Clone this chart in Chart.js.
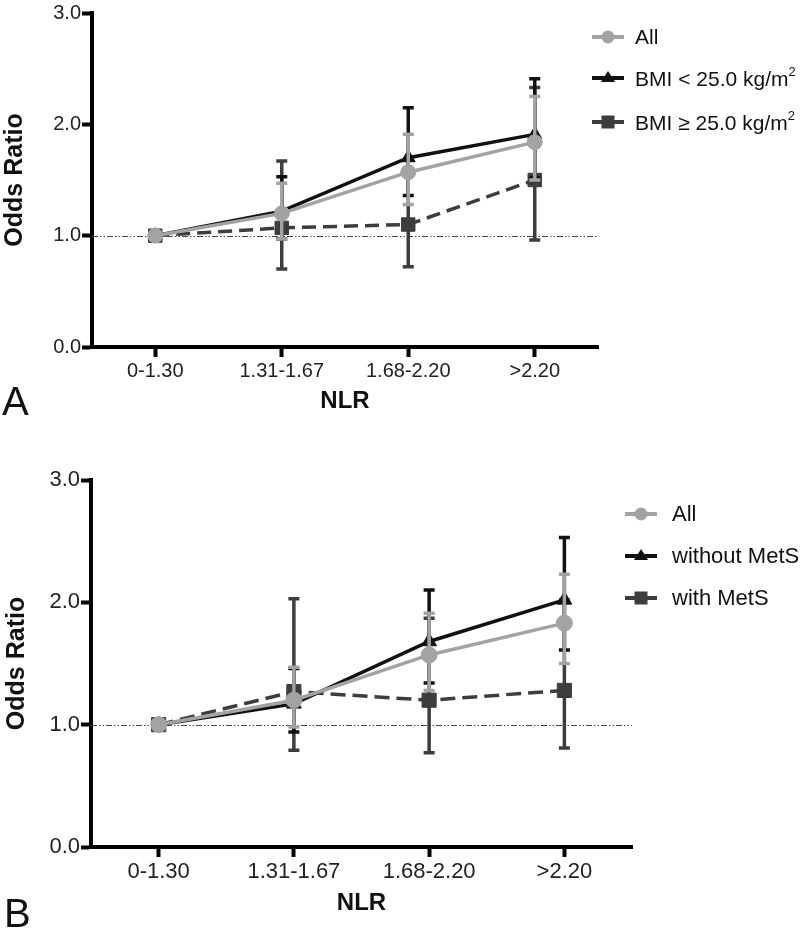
<!DOCTYPE html>
<html>
<head>
<meta charset="utf-8">
<script src="https://cdn.jsdelivr.net/npm/chart.js@4/dist/chart.umd.min.js"></script>
<style>
  html, body { margin:0; padding:0; background:#fff; }
  body { width:800px; height:936px; position:relative; overflow:hidden; font-family:"Liberation Sans", Arial, sans-serif; }
  .wrap { position:absolute; left:0; width:800px; }
  .panelLabel { position:absolute; font-size:40px; color:#111; line-height:1; }
  .legend { position:absolute; color:#111; }
  .legend .row { position:absolute; left:0; white-space:nowrap; display:flex; align-items:center; }
  .legend svg { display:block; }
  .legend sup { font-size:0.62em; position:relative; top:-0.15em; }
</style>
</head>
<body>
<div class="wrap" style="top:0;height:430px;"><canvas id="chartA" width="800" height="430"></canvas></div>
<div class="wrap" style="top:460px;height:476px;"><canvas id="chartB" width="800" height="476"></canvas></div>
<div class="panelLabel" style="left:2px;top:381px;">A</div>
<div class="panelLabel" style="left:4px;top:893px;">B</div>
<div class="legend" id="legA" style="left:592px;top:0px;font-size:21px;"></div>
<div class="legend" id="legB" style="left:625px;top:460px;font-size:22px;"></div>
<script>
// ---------- data ----------
const categories = ["0-1.30", "1.31-1.67", "1.68-2.20", ">2.20"];
const yTicks = [0, 1, 2, 3];

// Panel A
const allA    = [1.00, 1.20, 1.57, 1.84];
const allALo  = [1.00, 0.97, 1.28, 1.50];
const allAHi  = [1.00, 1.47, 1.91, 2.25];
const bmiLow   = [1.00, 1.22, 1.70, 1.91];
const bmiLowLo = [1.00, 0.97, 1.36, 1.52];
const bmiLowHi = [1.00, 1.53, 2.15, 2.41];
const bmiHigh   = [1.00, 1.07, 1.10, 1.50];
const bmiHighLo = [1.00, 0.70, 0.72, 0.96];
const bmiHighHi = [1.00, 1.67, 1.68, 2.33];

// Panel B
const allB    = [1.00, 1.20, 1.57, 1.83];
const allBLo  = [1.00, 0.98, 1.28, 1.50];
const allBHi  = [1.00, 1.47, 1.91, 2.23];
const noMetS   = [1.00, 1.17, 1.68, 2.02];
const noMetSLo = [1.00, 0.94, 1.34, 1.61];
const noMetSHi = [1.00, 1.46, 2.10, 2.53];
const metS   = [1.00, 1.27, 1.20, 1.28];
const metSLo = [1.00, 0.79, 0.77, 0.81];
const metSHi = [1.00, 2.03, 1.87, 2.02];

const refValue = 1.0;

// ---------- styles ----------
const GRAY = "#a3a3a3", BLACK = "#111111", DARK = "#3d3d3d";
const FONT = "'Liberation Sans', Arial, sans-serif";

const errorBars = {
  id: "errorBars",
  beforeDatasetDraw(chart, args) {
    const ds = chart.data.datasets[args.index];
    if (!ds.errLo) return;
    const ys = chart.scales.y, ctx = chart.ctx;
    ctx.save();
    ctx.setLineDash([]);
    ctx.strokeStyle = ds.borderColor;
    ctx.lineWidth = 3.5;
    ctx.lineCap = "butt";
    args.meta.data.forEach((pt, i) => {
      const lo = ds.errLo[i], hi = ds.errHi[i];
      if (lo === hi) return;
      const x = pt.x, yl = ys.getPixelForValue(lo), yh = ys.getPixelForValue(hi);
      ctx.beginPath();
      ctx.moveTo(x, yl); ctx.lineTo(x, yh);
      ctx.moveTo(x - 5.5, yl); ctx.lineTo(x + 5.5, yl);
      ctx.moveTo(x - 5.5, yh); ctx.lineTo(x + 5.5, yh);
      ctx.stroke();
    });
    ctx.restore();
  }
};

const refLine = {
  id: "refLine",
  beforeDatasetsDraw(chart) {
    const ys = chart.scales.y, ctx = chart.ctx, a = chart.chartArea;
    const y = Math.round(ys.getPixelForValue(refValue)) + 0.5;
    ctx.save();
    ctx.strokeStyle = "#444";
    ctx.lineWidth = 1;
    ctx.setLineDash([6, 2, 1.5, 2, 1.5, 2]);
    ctx.beginPath();
    ctx.moveTo(a.left, y); ctx.lineTo(a.right, y);
    ctx.stroke();
    ctx.restore();
  }
};

function makeChart(id, sets, opt) {
  const datasets = sets.map(s => ({
    label: s.label,
    data: s.data,
    errLo: s.lo,
    errHi: s.hi,
    borderColor: s.color,
    backgroundColor: s.color,
    borderWidth: 3.5,
    borderDash: s.dash || [],
    pointStyle: s.point,
    pointRadius: s.radius,
    pointBorderWidth: 1,
    pointBorderColor: s.color,
    pointBackgroundColor: s.color,
    tension: 0,
    fill: false
  }));
  return new Chart(document.getElementById(id), {
    type: "line",
    data: { labels: categories, datasets },
    plugins: [errorBars, refLine],
    options: {
      responsive: false,
      animation: false,
      events: [],
      layout: { padding: opt.padding },
      plugins: { legend: { display: false }, tooltip: { enabled: false } },
      scales: {
        x: {
          type: "category",
          offset: true,
          afterFit(s) { s.height = opt.xHeight; },
          grid: { display: true, drawOnChartArea: false, offset: false, tickLength: 10, tickWidth: 4, tickColor: "#000" },
          border: { display: true, color: "#000", width: 4 },
          ticks: { color: "#222", padding: 2, font: { family: FONT, size: opt.tickSize } },
          title: { display: true, text: "NLR", color: "#111", padding: { top: 0, bottom: opt.titlePadB }, font: { family: FONT, size: 24, weight: "bold" } }
        },
        y: {
          min: 0, max: 3,
          afterFit(s) { s.width = opt.yWidth; },
          afterBuildTicks(s) { s.ticks = yTicks.map(v => ({ value: v })); },
          grid: { display: true, drawOnChartArea: false, tickLength: 10, tickWidth: 4, tickColor: "#000" },
          border: { display: true, color: "#000", width: 4 },
          ticks: { color: "#222", padding: 1, font: { family: FONT, size: opt.tickSize }, callback: v => Number(v).toFixed(1) },
          title: { display: true, text: "Odds Ratio", color: "#111", padding: { top: opt.yTitlePad, bottom: 0 }, font: { family: FONT, size: 25, weight: "bold" } }
        }
      }
    }
  });
}

makeChart("chartA", [
  { label: "All", data: allA, lo: allALo, hi: allAHi, color: GRAY, point: "circle", radius: 7.5 },
  { label: "BMI < 25.0", data: bmiLow, lo: bmiLowLo, hi: bmiLowHi, color: BLACK, point: "triangle", radius: 8 },
  { label: "BMI ≥ 25.0", data: bmiHigh, lo: bmiHighLo, hi: bmiHighHi, color: DARK, point: "rect", radius: 9.5, dash: [14, 7] }
], { padding: { left: 0, right: 202, top: 0, bottom: 10 }, xHeight: 73, yWidth: 92, tickSize: 20, titlePadB: 4, yTitlePad: 0 });

makeChart("chartB", [
  { label: "All", data: allB, lo: allBLo, hi: allBHi, color: GRAY, point: "circle", radius: 8 },
  { label: "without MetS", data: noMetS, lo: noMetSLo, hi: noMetSHi, color: BLACK, point: "triangle", radius: 8.5 },
  { label: "with MetS", data: metS, lo: metSLo, hi: metSHi, color: DARK, point: "rect", radius: 10, dash: [15, 7] }
], { padding: { left: 0, right: 168, top: 20, bottom: 14 }, xHeight: 75, yWidth: 91, tickSize: 22, titlePadB: 4, yTitlePad: 2 });

// ---------- HTML legends ----------
function symbol(kind, color) {
  let m = "";
  if (kind === "circle") m = `<circle cx="16" cy="10" r="6.5" fill="${color}"/>`;
  if (kind === "triangle") m = `<polygon points="16,3 23,14 9,14" fill="${color}"/>`;
  if (kind === "rect") m = `<rect x="9.5" y="3.5" width="13" height="13" fill="${color}"/>`;
  return `<svg width="32" height="20" viewBox="0 0 32 20"><line x1="0" y1="10" x2="32" y2="10" stroke="${color}" stroke-width="4"/>${m}</svg>`;
}
function buildLegend(elId, items, textLeft) {
  const el = document.getElementById(elId);
  items.forEach(it => {
    const r = document.createElement("div");
    r.className = "row";
    r.style.top = (it.cy - 12) + "px";
    r.style.height = "24px";
    r.innerHTML = symbol(it.kind, it.color) + `<span style="margin-left:${textLeft - 32}px">${it.html}</span>`;
    el.appendChild(r);
  });
}
buildLegend("legA", [
  { kind: "circle", color: GRAY, html: "All", cy: 37 },
  { kind: "triangle", color: BLACK, html: "BMI &lt; 25.0 kg/m<sup>2</sup>", cy: 78 },
  { kind: "rect", color: DARK, html: "BMI ≥ 25.0 kg/m<sup>2</sup>", cy: 122 }
], 43);
buildLegend("legB", [
  { kind: "circle", color: GRAY, html: "All", cy: 54 },
  { kind: "triangle", color: BLACK, html: "without MetS", cy: 96 },
  { kind: "rect", color: DARK, html: "with MetS", cy: 138 }
], 47);
</script>
</body>
</html>
